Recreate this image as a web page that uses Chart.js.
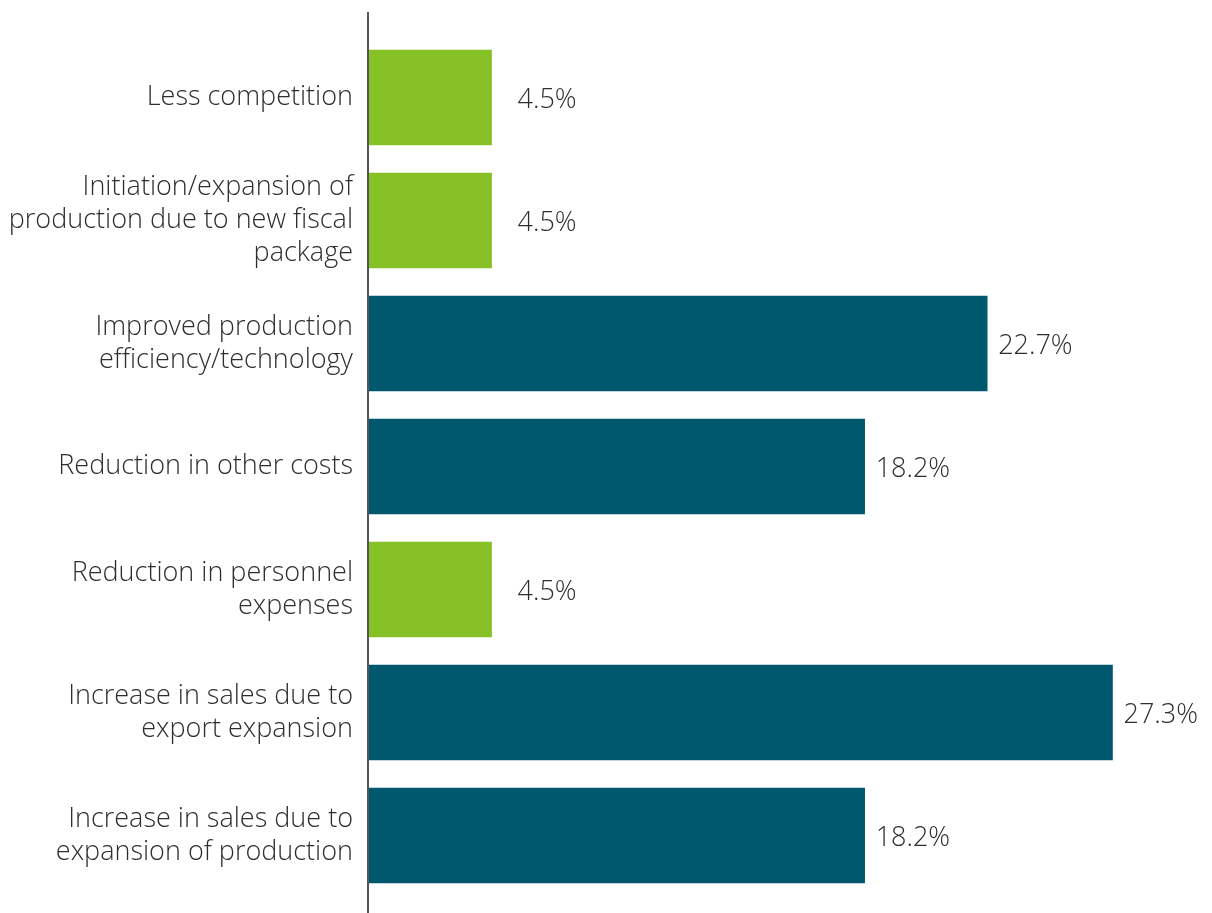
<!DOCTYPE html>
<html>
<head>
<meta charset="utf-8">
<script src="https://cdn.jsdelivr.net/npm/chart.js@4"></script>
<style>
  html, body { margin: 0; padding: 0; background: #fff; }
  #wrap { width: 1212px; height: 913px; }
</style>
</head>
<body>
<div id="wrap"><canvas id="driversChart"></canvas></div>
<script>
const categories = [
  ["Less competition"],
  ["Initiation/expansion of", "production due to new fiscal", "package"],
  ["Improved production", "efficiency/technology"],
  ["Reduction in other costs"],
  ["Reduction in personnel", "expenses"],
  ["Increase in sales due to", "export expansion"],
  ["Increase in sales due to", "expansion of production"]
];
const shares = [4.5, 4.5, 22.7, 18.2, 4.5, 27.3, 18.2];
const highlight = [true, true, false, false, true, false, false];

const GREEN = "#86c128";
const TEAL = "#00586f";
const FONT = "'Open Sans', Roboto, sans-serif";

// vertical axis line runs past the plot area at both ends
const axisLine = {
  id: "axisLine",
  afterDatasetsDraw(chart) {
    const ctx = chart.ctx;
    const x = chart.scales.x.left - 1;
    ctx.save();
    ctx.strokeStyle = "#555";
    ctx.lineWidth = 2;
    ctx.beginPath();
    ctx.moveTo(x, 12);
    ctx.lineTo(x, chart.height);
    ctx.stroke();
    ctx.restore();
  }
};

const valueLabels = {
  id: "valueLabels",
  afterDatasetsDraw(chart) {
    const ctx = chart.ctx;
    const meta = chart.getDatasetMeta(0);
    ctx.save();
    ctx.font = "300 27px " + FONT;
    ctx.fillStyle = "#2e2e2e";
    ctx.textBaseline = "middle";
    ctx.textAlign = "left";
    meta.data.forEach((bar, i) => {
      const gap = highlight[i] ? 26 : 11;
      ctx.fillText(shares[i].toFixed(1) + "%", bar.x + gap, bar.y + 3);
    });
    ctx.restore();
  }
};

new Chart(document.getElementById("driversChart"), {
  type: "bar",
  data: {
    labels: categories,
    datasets: [{
      data: shares,
      backgroundColor: highlight.map(h => h ? GREEN : TEAL),
      barThickness: 95,
      borderWidth: 0
    }]
  },
  options: {
    indexAxis: "y",
    responsive: true,
    maintainAspectRatio: false,
    animation: false,
    layout: { padding: { top: 36, bottom: 16, right: 26, left: 0 } },
    plugins: { legend: { display: false }, tooltip: { enabled: false } },
    scales: {
      x: {
        min: 0,
        max: 30,
        display: false,
        grid: { display: false }
      },
      y: {
        afterFit(scale) {
          scale.width = 369;
          scale.paddingTop = 0;
          scale.paddingBottom = 0;
        },
        border: { display: false },
        grid: { display: false, drawTicks: false },
        ticks: {
          padding: 16,
          color: "#2e2e2e",
          font: { family: FONT, size: 27, weight: "300", lineHeight: 1.222 }
        }
      }
    }
  },
  plugins: [axisLine, valueLabels]
});
</script>
</body>
</html>
